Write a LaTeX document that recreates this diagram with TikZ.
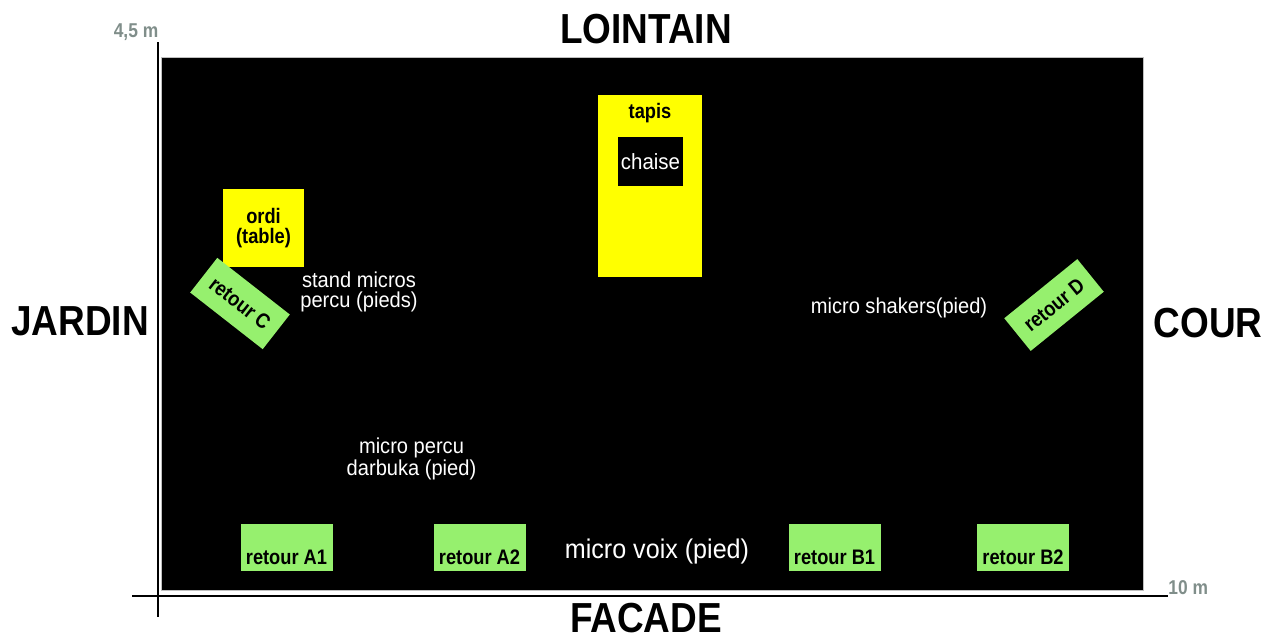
\documentclass[tikz,border=0pt]{standalone}
\usepackage{fontspec}
\setmainfont{Liberation Sans}
\newfontfamily\sidefont[FakeStretch=0.88]{Liberation Sans}
\newfontfamily\boxfont[FakeStretch=0.87]{Liberation Sans}
\newfontfamily\labelfont[FakeStretch=0.93]{Liberation Sans}
\usetikzlibrary{positioning}
\definecolor{retourvert}{RGB}{150,240,110}
\definecolor{jaune}{RGB}{255,255,0}
\definecolor{mesuregris}{RGB}{128,142,138}

\begin{document}
\begin{tikzpicture}[x=0.5pt, y=-0.5pt,
  cote/.style = {font=\sidefont\bfseries\fontsize{21}{24}\selectfont, inner sep=0},
  retour/.style = {fill=retourvert, minimum width=46pt, minimum height=23.5pt, inner sep=0, text height=20pt, text depth=3.5pt, font=\boxfont\bfseries\fontsize{10.5}{12}\selectfont},
  retourbis/.style = {fill=retourvert, minimum width=46pt, minimum height=22pt, inner sep=0, font=\boxfont\bfseries\fontsize{10.5}{12}\selectfont},
  meuble/.style = {fill=jaune, inner sep=0, align=center, font=\boxfont\bfseries\fontsize{10.5}{10}\selectfont},
  micro/.style = {text=white, align=center, inner sep=0, font=\labelfont\fontsize{10.8}{10}\selectfont},
  mesure/.style = {text=mesuregris, inner sep=0, font=\boxfont\bfseries\fontsize{10}{12}\selectfont}]
\useasboundingbox (0,0) rectangle (1277,639);

% scene
\node[fill=black, draw=gray!50, minimum width=491pt, minimum height=266.5pt, inner sep=0] (scene) at (652,323.5) {};

% axes
\coordinate (haut) at (158,42);
\coordinate (bas) at (158,617);
\coordinate (gauche) at (132,596);
\coordinate (droite) at (1168,596);
\draw[line width=0.7pt] (haut) -- (bas);
\draw[line width=0.7pt] (gauche) -- (droite);
\node[mesure] (hauteur) at (136,32) {4,5 m};
\node[mesure, anchor=west] (largeur) at (1168,588) {10 m};

% cotes
\node[cote] (lointain) at (646,29) {LOINTAIN};
\node[cote] (facade) at (646,618) {FACADE};
\node[cote] (jardin) at (80,321) {JARDIN};
\node[cote] (cour) at (1208,323) {COUR};

% meubles
\node[meuble, minimum width=52pt, minimum height=91pt] (tapis) at (650,186) {};
\node[meuble, fill=none, below=4pt of tapis.north] (tapislabel) {tapis};
\node[fill=black, text=white, minimum width=32.5pt, minimum height=24.5pt, inner sep=0, font=\labelfont\fontsize{11}{12}\selectfont] (chaise) at (650.5,161.5) {chaise};
\node[meuble, minimum width=40.5pt, minimum height=39pt] (ordi) at (263.5,228) {ordi\\(table)};

% retours
\node[retourbis, rotate=-38] (C) at (240,303.5) {retour C};
\node[retourbis, rotate=39, minimum width=47pt, minimum height=21pt] (D) at (1054,305) {retour D};
\node[retour] (A1) at (286.5,547.5) {retour A1};
\node[retour] (A2) at (479.5,547.5) {retour A2};
\node[retour] (B1) at (834.5,547.5) {retour B1};
\node[retour] (B2) at (1023,547.5) {retour B2};

% micros
\node[micro] (stand) at (359,292) {stand micros\\percu (pieds)};
\node[micro] (darbuka) at (411.5,458.5) {micro percu\\darbuka (pied)};
\node[micro] (shakers) at (899,308) {micro shakers(pied)};
\node[micro, font=\labelfont\fontsize{13.5}{14}\selectfont] (voix) at (657,551) {micro voix (pied)};
\end{tikzpicture}
\end{document}
